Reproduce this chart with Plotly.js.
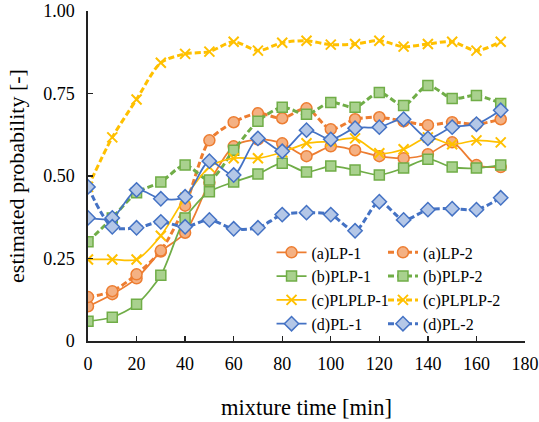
<!DOCTYPE html>
<html>
<head>
<meta charset="utf-8">
<script src="https://cdn.plot.ly/plotly-3.0.1.min.js"></script>
<style>html,body{margin:0;padding:0;background:#fff;}#chart{width:539px;height:422px;}</style>
</head>
<body>
<div id="chart"></div>
<script>
const time = [0,10,20,30,40,50,60,70,80,90,100,110,120,130,140,150,160,170];
const LP1 = [0.105,0.142,0.190,0.271,0.328,0.480,0.590,0.611,0.599,0.560,0.590,0.578,0.560,0.554,0.566,0.602,0.533,0.527];
const LP2 = [0.133,0.151,0.202,0.274,0.410,0.608,0.663,0.690,0.675,0.705,0.642,0.672,0.678,0.666,0.654,0.663,0.657,0.672];
const PLP1 = [0.060,0.072,0.111,0.199,0.373,0.452,0.482,0.506,0.539,0.512,0.530,0.518,0.503,0.524,0.551,0.527,0.524,0.533];
const PLP2 = [0.301,0.373,0.449,0.482,0.533,0.488,0.578,0.666,0.708,0.687,0.723,0.708,0.753,0.714,0.774,0.735,0.744,0.720];
const PLPLP1 = [0.247,0.247,0.247,0.319,0.434,0.527,0.554,0.554,0.572,0.599,0.605,0.614,0.569,0.581,0.617,0.596,0.608,0.602];
const PLPLP2 = [0.467,0.617,0.732,0.843,0.870,0.877,0.907,0.880,0.904,0.910,0.898,0.900,0.910,0.892,0.900,0.907,0.880,0.907];
const PL1 = [0.373,0.373,0.458,0.431,0.437,0.545,0.503,0.614,0.575,0.639,0.611,0.645,0.648,0.672,0.614,0.648,0.657,0.699];
const PL2 = [0.467,0.346,0.343,0.361,0.346,0.367,0.340,0.343,0.383,0.389,0.383,0.334,0.422,0.367,0.398,0.401,0.398,0.434];
const seriesNames = ['(a)LP-1','(a)LP-2','(b)PLP-1','(b)PLP-2','(c)PLPLP-1','(c)PLPLP-2','(d)PL-1','(d)PL-2'];
const yTickVals = [0,0.25,0.5,0.75,1.0];
const yTickText = ['0','0.25','0.50','0.75','1.00'];
const xTickVals = [0,20,40,60,80,100,120,140,160,180];

const FONT = 'Liberation Serif';
const C = {
  orange:'#ED7D31', orangeF:'#F4B183',
  green:'#70AD47', greenF:'#A9D18E',
  yellow:'#FFC000',
  blue:'#4472C4', blueF:'#B4C7E7'
};
const DASH = '6px,3px';

function mk(name, y, color, fill, symbol, size, dashed, legend){
  const isX = symbol === 'x-thin';
  return {
    x: time, y: y, name: name, type: 'scatter', mode: 'lines+markers',
    legend: legend,
    line: {color: color, width: dashed ? 3 : 1.75, dash: dashed ? DASH : 'solid', shape: 'spline', smoothing: 0.8},
    marker: isX ? {symbol: symbol, size: size, color: color, line: {color: color, width: 2}}
                : {symbol: symbol, size: size, color: fill, line: {color: color, width: 1.5}}
  };
}

const data = [
  mk(seriesNames[0], LP1, C.orange, C.orangeF, 'circle', 11, false, 'legend'),
  mk(seriesNames[1], LP2, C.orange, C.orangeF, 'circle', 11, true, 'legend2'),
  mk(seriesNames[2], PLP1, C.green, C.greenF, 'square', 10, false, 'legend'),
  mk(seriesNames[3], PLP2, C.green, C.greenF, 'square', 10, true, 'legend2'),
  mk(seriesNames[4], PLPLP1, C.yellow, C.yellow, 'x-thin', 10, false, 'legend'),
  mk(seriesNames[5], PLPLP2, C.yellow, C.yellow, 'x-thin', 10, true, 'legend2'),
  mk(seriesNames[6], PL1, C.blue, C.blueF, 'diamond', 11, false, 'legend'),
  mk(seriesNames[7], PL2, C.blue, C.blueF, 'diamond', 11, true, 'legend2')
];

const legendCommon = {
  bgcolor: 'rgba(0,0,0,0)', borderwidth: 0,
  font: {family: FONT, size: 16, color: '#000'},
  orientation: 'v', xanchor: 'left', yanchor: 'top', tracegroupgap: 0
};

const layout = {
  width: 539, height: 422,
  margin: {l: 88, r: 14, t: 11, b: 80.5},
  paper_bgcolor: '#fff', plot_bgcolor: '#fff',
  font: {family: FONT, size: 18, color: '#000'},
  showlegend: true,
  legend: Object.assign({}, legendCommon, {x: 0.42, y: 0.32}),
  legend2: Object.assign({}, legendCommon, {x: 0.675, y: 0.32}),
  xaxis: {
    range: [0, 180], tickvals: xTickVals, ticks: 'inside', ticklen: 5, tickwidth: 1.3,
    tickcolor: '#222', showline: true, linecolor: '#222', linewidth: 1.6,
    showgrid: false, zeroline: false, ticklabelstandoff: 6,
    tickfont: {family: FONT, size: 18, color: '#000'},
    title: {text: 'mixture time [min]', font: {family: FONT, size: 22.5, color: '#000'}, standoff: 26}
  },
  yaxis: {
    range: [0, 1.0], tickvals: yTickVals, ticktext: yTickText, ticks: 'inside', ticklen: 5, tickwidth: 1.3,
    tickcolor: '#222', showline: true, linecolor: '#222', linewidth: 1.6,
    showgrid: false, zeroline: false, ticklabelstandoff: 8,
    tickfont: {family: FONT, size: 18, color: '#000'},
    title: {text: 'estimated probability [-]', font: {family: FONT, size: 22, color: '#000'}, standoff: 12}
  }
};

Plotly.newPlot('chart', data, layout, {displayModeBar: false, staticPlot: true});
</script>
</body>
</html>
